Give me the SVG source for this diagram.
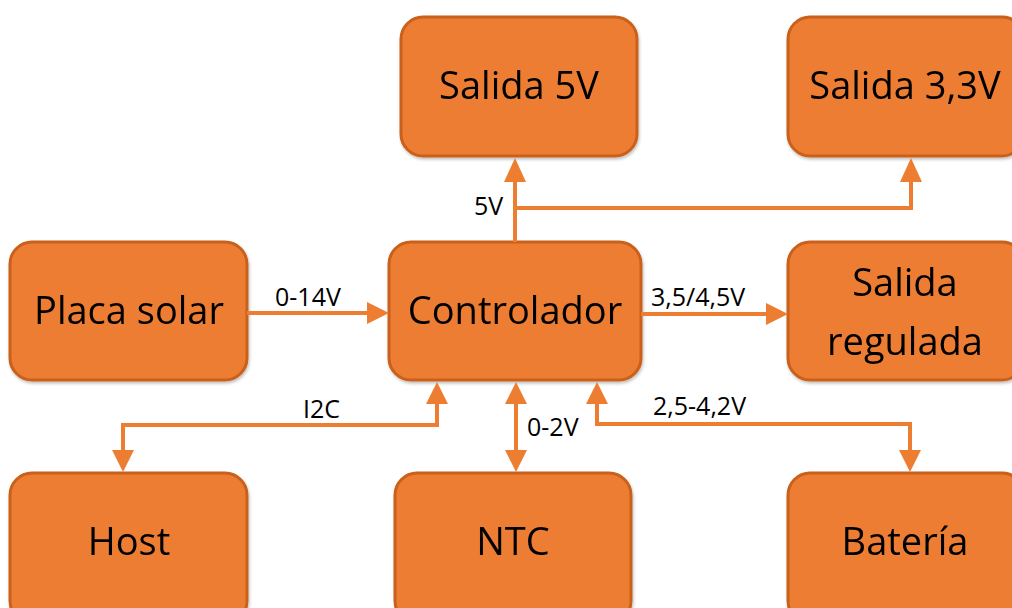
<svg xmlns="http://www.w3.org/2000/svg" width="1012" height="608" viewBox="0 0 1012 608">
<style>
.box{fill:#ED7D31;stroke:#C9611C;stroke-width:3}
.lbl{font-family:"Open Sans","Noto Sans",sans-serif;font-size:38px;fill:#000;text-anchor:middle}
.clbl{font-family:"Open Sans","Noto Sans",sans-serif;font-size:25px;fill:#000}
.wire{fill:none;stroke:#ED7D31;stroke-width:4}
.ah{fill:#ED7D31}
</style>
<defs>
<filter id="sh" x="-10%" y="-10%" width="120%" height="120%">
<feDropShadow dx="1" dy="2" stdDeviation="1.5" flood-color="#000" flood-opacity="0.25"/>
</filter>
</defs>
<g id="salida5v" filter="url(#sh)"><rect class="box" x="401" y="17" width="236" height="139" rx="22"/><text class="lbl" x="519" y="99">Salida 5V</text></g>
<g id="salida33v" filter="url(#sh)"><rect class="box" x="788" y="17" width="236" height="139" rx="22"/><text class="lbl" x="905" y="99">Salida 3,3V</text></g>
<g id="placa" filter="url(#sh)"><rect class="box" x="10" y="242" width="237" height="138" rx="22"/><text class="lbl" x="129" y="324">Placa solar</text></g>
<g id="controlador" filter="url(#sh)"><rect class="box" x="389" y="242" width="252" height="138" rx="22"/><text class="lbl" x="515" y="324">Controlador</text></g>
<g id="regulada" filter="url(#sh)"><rect class="box" x="788" y="242" width="236" height="138" rx="22"/><text class="lbl" x="905" y="296">Salida</text><text class="lbl" x="905" y="355">regulada</text></g>
<g id="host" filter="url(#sh)"><rect class="box" x="10" y="473" width="237" height="150" rx="22"/><text class="lbl" x="129" y="555">Host</text></g>
<g id="ntc" filter="url(#sh)"><rect class="box" x="395" y="473" width="236" height="150" rx="22"/><text class="lbl" x="513" y="555">NTC</text></g>
<g id="bateria" filter="url(#sh)"><rect class="box" x="788" y="473" width="236" height="150" rx="22"/><text class="lbl" x="905" y="555">Batería</text></g>
<g id="connectors">
<path class="wire" d="M515 242 V180 M515 208 H911 V180"/>
<polygon class="ah" points="515,158 504,182 526,182"/>
<polygon class="ah" points="911,158 900,182 922,182"/>
<text class="clbl" x="474" y="215">5V</text>
<path class="wire" d="M247 313 H369"/>
<polygon class="ah" points="389,313 367,302 367,324"/>
<text class="clbl" x="275" y="306">0-14V</text>
<path class="wire" d="M641 314 H768"/>
<polygon class="ah" points="788,314 766,303 766,325"/>
<text class="clbl" x="651" y="306">3,5/4,5V</text>
<path class="wire" d="M437 402 V425 H123 V452"/>
<polygon class="ah" points="437,382 426,404 448,404"/>
<polygon class="ah" points="123,472 112,450 134,450"/>
<text class="clbl" x="303" y="418">I2C</text>
<path class="wire" d="M516 402 V452"/>
<polygon class="ah" points="516,382 505,404 527,404"/>
<polygon class="ah" points="516,472 505,450 527,450"/>
<text class="clbl" x="527" y="436">0-2V</text>
<path class="wire" d="M597 402 V424 H910 V452"/>
<polygon class="ah" points="597,382 586,404 608,404"/>
<polygon class="ah" points="910,472 899,450 921,450"/>
<text class="clbl" x="653" y="415">2,5-4,2V</text>
</g>
</svg>
